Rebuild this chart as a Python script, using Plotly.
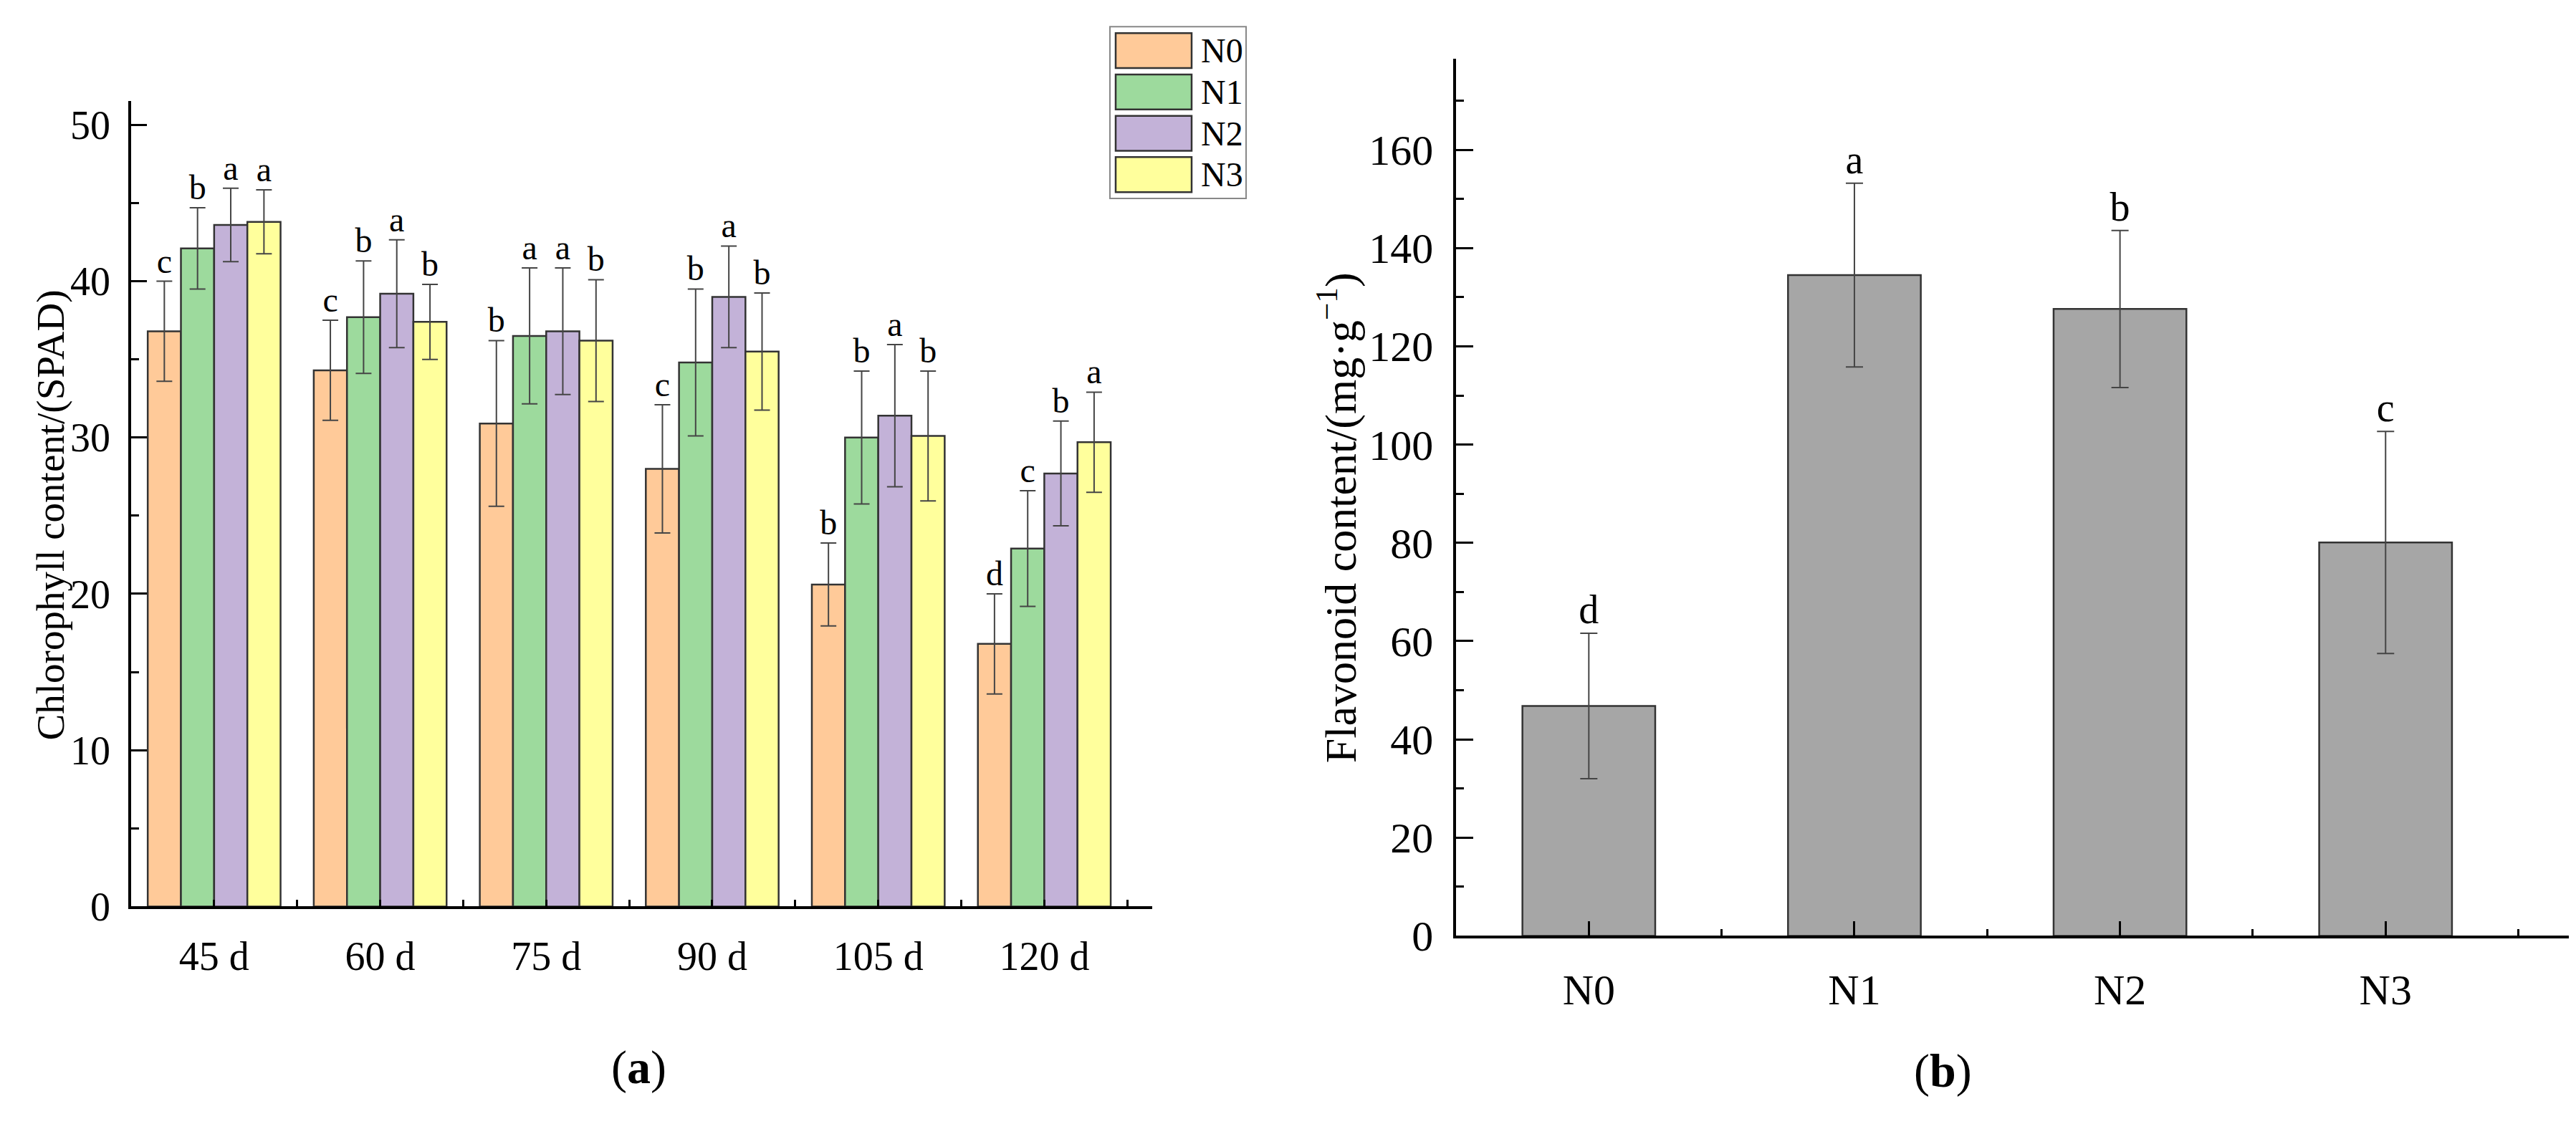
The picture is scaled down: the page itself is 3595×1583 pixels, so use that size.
import plotly.graph_objects as go

# ---------------- data: panel (a) chlorophyll (SPAD) ----------------
days = ["45 d", "60 d", "75 d", "90 d", "105 d", "120 d"]
series_names = ["N0", "N1", "N2", "N3"]
series_colors = ["#FFCA99", "#9DDA9D", "#C3B2D8", "#FFFF9C"]

N0 = [36.8, 34.3, 30.9, 28.0, 20.6, 16.8]
N0_err = [3.2, 3.2, 5.3, 4.1, 2.65, 3.2]
N1 = [42.1, 37.7, 36.5, 34.8, 30.0, 22.9]
N1_err = [2.6, 3.6, 4.35, 4.7, 4.25, 3.7]
N2 = [43.6, 39.2, 36.8, 39.0, 31.4, 27.7]
N2_err = [2.35, 3.45, 4.05, 3.25, 4.55, 3.35]
N3 = [43.8, 37.4, 36.2, 35.5, 30.1, 29.7]
N3_err = [2.05, 2.4, 3.9, 3.75, 4.15, 3.2]

N0_letters = ["c", "c", "b", "c", "b", "d"]
N1_letters = ["b", "b", "a", "b", "b", "c"]
N2_letters = ["a", "a", "a", "a", "a", "b"]
N3_letters = ["a", "b", "b", "b", "b", "a"]

chl_ticks = [0, 10, 20, 30, 40, 50]

# ---------------- data: panel (b) flavonoid ----------------
treatments = ["N0", "N1", "N2", "N3"]
flav = [46.8, 134.5, 127.6, 80.1]
flav_err = [14.8, 18.7, 16.0, 22.6]
flav_letters = ["d", "a", "b", "c"]
flav_ticks = [0, 20, 40, 60, 80, 100, 120, 140, 160]

# ---------------- figure geometry ----------------
W, H = 3595, 1583
FONT = "Liberation Serif"


def px(x):
    return x / W


def py(y):
    return 1 - y / H


fig = go.Figure()

vals = [N0, N1, N2, N3]
errs = [N0_err, N1_err, N2_err, N3_err]
lets = [N0_letters, N1_letters, N2_letters, N3_letters]
xpos = list(range(len(days)))
bar_w = 0.2

for i, (name, color) in enumerate(zip(series_names, series_colors)):
    fig.add_trace(go.Bar(
        x=xpos, y=vals[i], name=name, width=bar_w,
        offset=-0.4 + i * bar_w,
        marker=dict(color=color, line=dict(color="#333333", width=2.5)),
        error_y=dict(type="data", array=errs[i], color="#454545", thickness=2, width=11),
        xaxis="x", yaxis="y", showlegend=False,
    ))
    fig.add_trace(go.Scatter(
        x=[x - 0.4 + (i + 0.5) * bar_w for x in xpos],
        y=[v + e for v, e in zip(vals[i], errs[i])],
        text=lets[i], mode="text", textposition="top center",
        textfont=dict(family=FONT, size=48, color="black"),
        xaxis="x", yaxis="y", showlegend=False, cliponaxis=False,
    ))

fx = list(range(len(treatments)))
fig.add_trace(go.Bar(
    x=fx, y=flav, width=0.5,
    marker=dict(color="#A6A6A6", line=dict(color="#333333", width=2.5)),
    error_y=dict(type="data", array=flav_err, color="#454545", thickness=2, width=12),
    xaxis="x2", yaxis="y2", showlegend=False,
))
fig.add_trace(go.Scatter(
    x=fx, y=[v + e for v, e in zip(flav, flav_err)], text=flav_letters,
    mode="text", textposition="top center",
    textfont=dict(family=FONT, size=56, color="black"),
    xaxis="x2", yaxis="y2", showlegend=False, cliponaxis=False,
))

axis_common = dict(showline=True, linecolor="black", linewidth=3.5, showgrid=False,
                   zeroline=False, ticks="inside", tickcolor="black", tickwidth=3,
                   mirror=False)

fig.update_layout(
    width=W, height=H,
    margin=dict(l=0, r=0, t=0, b=0),
    paper_bgcolor="white", plot_bgcolor="white",
    barmode="overlay",
    font=dict(family=FONT, color="black"),
    xaxis=dict(**axis_common, domain=[px(175), px(1600)], range=[-0.5, 5.65],
               tickmode="array", tickvals=xpos, ticktext=days, ticklen=10,
               tickfont=dict(size=56), ticklabelstandoff=18,
               minor=dict(tickmode="array", tickvals=[x + 0.5 for x in xpos],
                          ticks="inside", ticklen=10, tickwidth=3, tickcolor="black"),
               anchor="y"),
    yaxis=dict(**axis_common, domain=[py(1285), py(136)], range=[0, (1285 - 136) / 22.3],
               tickmode="array", tickvals=chl_ticks, ticklen=22,
               tickfont=dict(size=56), ticklabelstandoff=14,
               minor=dict(tickmode="array", tickvals=[t + 5 for t in chl_ticks],
                          ticks="inside", ticklen=11, tickwidth=3, tickcolor="black"),
               anchor="x"),
    xaxis2=dict(**axis_common, domain=[px(2024), px(3577)], range=[-0.5, 3.69],
                tickmode="array", tickvals=fx, ticktext=treatments, ticklen=21,
                tickfont=dict(size=60), ticklabelstandoff=20,
                minor=dict(tickmode="array", tickvals=[x + 0.5 for x in fx],
                           ticks="inside", ticklen=10, tickwidth=3, tickcolor="black"),
                anchor="y2"),
    yaxis2=dict(**axis_common, domain=[py(1327), py(76)], range=[0, (1327 - 76) / 7.009],
                tickmode="array", tickvals=flav_ticks, ticklen=24,
                tickfont=dict(size=60), ticklabelstandoff=16,
                minor=dict(tickmode="array", tickvals=[t + 10 for t in flav_ticks],
                           ticks="inside", ticklen=11, tickwidth=3, tickcolor="black"),
                anchor="x2"),
)

# axis titles and panel labels
annotations = [
    dict(text="Chlorophyll content/(SPAD)", x=px(62), y=py(727), textangle=-90,
         font=dict(size=55)),
    dict(text="Flavonoid content/(mg·g<sup>−1</sup>)", x=px(1858), y=py(731), textangle=-90,
         font=dict(size=62)),
    dict(text="(<b>a</b>)", x=px(883), y=py(1515), font=dict(size=66)),
    dict(text="(<b>b</b>)", x=px(2703), y=py(1520), font=dict(size=66)),
]

# custom legend for panel (a)
shapes = [dict(type="rect", xref="paper", yref="paper",
               x0=px(1541), x1=px(1731), y0=py(275), y1=py(30),
               line=dict(color="#888888", width=2), fillcolor="white")]
for i, (name, color) in enumerate(zip(series_names, series_colors)):
    top = 39 + i * 59
    shapes.append(dict(type="rect", xref="paper", yref="paper",
                       x0=px(1549), x1=px(1655), y0=py(top + 50), y1=py(top),
                       line=dict(color="#333333", width=2.5), fillcolor=color))
    annotations.append(dict(text=name, x=px(1666), y=py(top + 25), xanchor="left",
                            font=dict(size=48)))

for a in annotations:
    a.update(xref="paper", yref="paper", showarrow=False)
    a.setdefault("xanchor", "center")
    a["yanchor"] = "middle"
    a["font"].update(family=FONT, color="black")

fig.update_layout(annotations=annotations, shapes=shapes)

fig.write_html("out.html")
